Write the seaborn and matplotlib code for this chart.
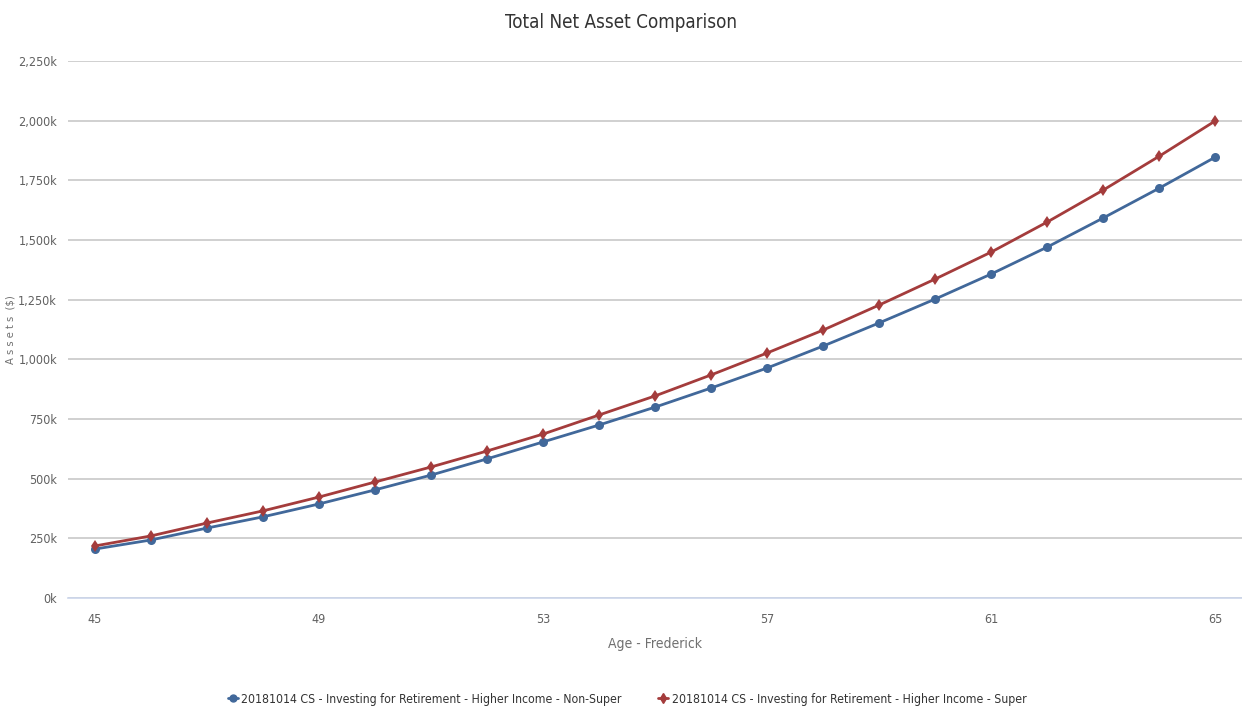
import pandas as pd
import matplotlib.pyplot as plt
import seaborn as sns
from matplotlib.lines import Line2D
from matplotlib.ticker import FuncFormatter, MultipleLocator

# === data (values in $k) ===
ages = list(range(45, 66))
non_super = [205, 243, 293, 340, 394, 453, 515, 583, 654, 725, 800,
             880, 964, 1056, 1153, 1253, 1358, 1471, 1593, 1718, 1848]
super_vals = [218, 260, 314, 365, 423, 486, 549, 616, 687, 767, 847,
              935, 1027, 1123, 1228, 1337, 1450, 1576, 1710, 1852, 2000]
series_names = ["20181014 CS - Investing for Retirement - Higher Income - Non-Super",
                "20181014 CS - Investing for Retirement - Higher Income - Super"]
colors = ["#41689a", "#a43c3c"]

df = pd.DataFrame({
    "age": ages * 2,
    "assets": non_super + super_vals,
    "series": [series_names[0]] * len(ages) + [series_names[1]] * len(ages),
})

sns.set_style("white")
plt.rcParams["font.family"] = ["DejaVu Sans"]
plt.rcParams["font.stretch"] = "condensed"

fig = plt.figure(figsize=(12.42, 7.11), dpi=100)
ax = fig.add_axes([0.0548, 0.159, 0.945, 0.755])

sns.lineplot(data=df, x="age", y="assets", hue="series", style="series",
             palette=colors, markers=["o", "d"], dashes=False,
             markersize=6.5, markeredgewidth=0, linewidth=2.0, legend=False, ax=ax)

ax.set_xlim(44.52, 65.47)
ax.set_ylim(0, 2250)
ax.yaxis.set_major_locator(MultipleLocator(250))
ax.yaxis.set_major_formatter(FuncFormatter(lambda v, p: f"{int(v):,}k"))
ax.set_xticks(ages[::4])
ax.set_xticks(ages[::2], minor=True)
ax.grid(axis="y", color="#c8c8c8", linewidth=1.2)
ax.set_axisbelow(True)
for s in ["top", "right", "left"]:
    ax.spines[s].set_visible(False)
ax.spines["bottom"].set_color("#ccd6eb")
ax.spines["bottom"].set_linewidth(1.2)
ax.tick_params(axis="x", which="both", length=10, color="#ccd6eb", width=1,
               labelsize=9, labelcolor="#606060", pad=1)
ax.tick_params(axis="y", length=0, labelsize=9, labelcolor="#606060", pad=8)

ax.set_xlabel("Age - Frederick", fontsize=10, color="#707070", labelpad=8)
ax.set_ylabel("A s s e t s  ($)", fontsize=8, color="#707070")
ax.yaxis.set_label_coords(-0.045, 0.5)
fig.suptitle("Total Net Asset Comparison", fontsize=13.5, color="#333333", y=0.982)

handles = [Line2D([0], [0], color=c, marker=m, markersize=5, linewidth=2)
           for c, m in zip(colors, ["o", "d"])]
fig.legend(handles, series_names, loc="lower center", ncol=2, frameon=False,
           fontsize=8.8, handlelength=0.8, handletextpad=0.3, columnspacing=3.0,
           bbox_to_anchor=(0.505, -0.008), labelcolor="#333333")

fig.savefig("out.png", dpi=100)
